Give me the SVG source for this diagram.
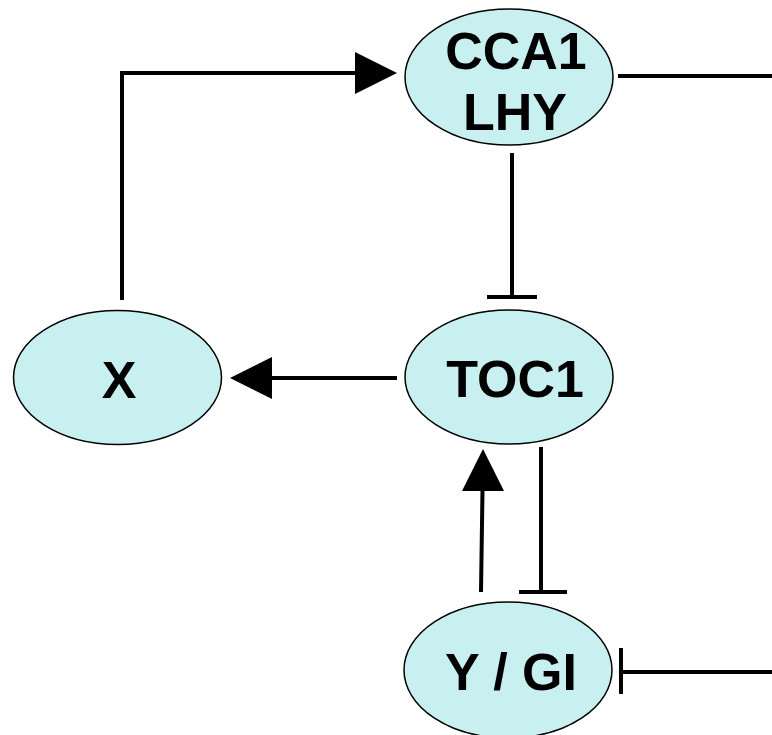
<svg xmlns="http://www.w3.org/2000/svg" width="772" height="735" viewBox="0 0 772 735">
  <style>
    .node ellipse { fill: #c9f0f0; stroke: #000; stroke-width: 1.5; }
    .node text { font-family: "Liberation Sans", Arial, sans-serif; font-weight: bold; font-size: 52px; fill: #000; text-anchor: middle; }
    .edges line, .edges polyline { stroke: #000; stroke-width: 4; fill: none; }
    .head { fill: #000; stroke: none; }
  </style>
  <rect width="772" height="735" fill="#fff"/>

  <g id="edges" class="edges">
    <!-- X activates CCA1/LHY -->
    <polyline points="122,300 122,73 358,73"/>
    <polygon class="head" points="355,52 397,73 355,94"/>
    <!-- CCA1/LHY output to the right -->
    <line x1="618" y1="76" x2="772" y2="76"/>
    <!-- CCA1/LHY represses TOC1 -->
    <line x1="512" y1="153" x2="512" y2="297"/>
    <line x1="487" y1="297" x2="537" y2="297"/>
    <!-- TOC1 activates X -->
    <line x1="397" y1="378" x2="270" y2="378"/>
    <polygon class="head" points="272,357 230,378 272,399"/>
    <!-- Y/GI activates TOC1 -->
    <line x1="481" y1="592" x2="482.5" y2="490"/>
    <polygon class="head" points="462,491 483,449 504,491"/>
    <!-- TOC1 represses Y/GI -->
    <line x1="541" y1="447" x2="541" y2="592"/>
    <line x1="519" y1="592" x2="567" y2="592"/>
    <!-- input from the right represses Y/GI -->
    <line x1="772" y1="672" x2="621" y2="672"/>
    <line x1="621" y1="648" x2="621" y2="694"/>
  </g>

  <g id="cca1" class="node">
    <ellipse cx="509" cy="77" rx="104" ry="68"/>
    <text x="516" y="69">CCA1</text>
    <text x="515" y="130">LHY</text>
  </g>

  <g id="x" class="node">
    <ellipse cx="117.5" cy="377.5" rx="104" ry="67"/>
    <text x="119" y="398">X</text>
  </g>

  <g id="toc1" class="node">
    <ellipse cx="509" cy="377" rx="104" ry="67"/>
    <text x="515" y="397">TOC1</text>
  </g>

  <g id="ygi" class="node">
    <ellipse cx="508" cy="670" rx="104" ry="68"/>
    <text x="511" y="690">Y / GI</text>
  </g>
</svg>
